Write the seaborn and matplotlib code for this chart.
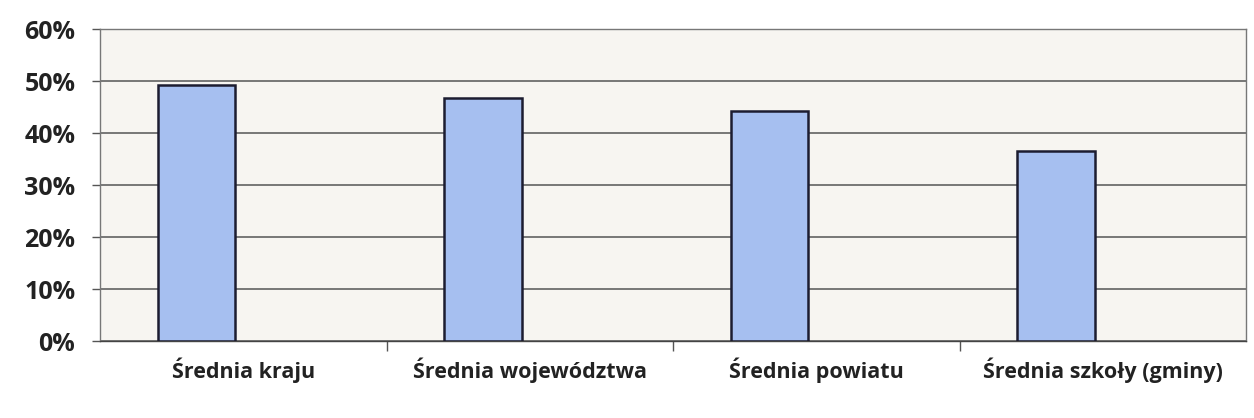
import pandas as pd
import numpy as np
import matplotlib
matplotlib.use("Agg")
import matplotlib.pyplot as plt
import seaborn as sns
from matplotlib.ticker import PercentFormatter, FixedLocator

sns.set_theme(style="white")
plt.rcParams['font.family'] = ['Open Sans', 'DejaVu Sans']

# data
categories = ["Średnia kraju", "Średnia województwa", "Średnia powiatu", "Średnia szkoły (gminy)"]
values = [49.3, 46.7, 44.2, 36.5]

# Excel-style layout: an empty second series keeps the bars left of the category centre
series = ["wynik", "pusta"]
empty = [np.nan] * len(categories)
df = pd.DataFrame({
    "kategoria": categories * 2,
    "wynik": values + empty,
    "seria": [series[0]] * len(categories) + [series[1]] * len(categories),
})

fig = plt.figure(figsize=(12.54, 4.18), dpi=100)
ax = fig.add_axes([0.08, 0.184, 0.914, 0.746])
ax.set_facecolor("#f7f5f1")

sns.barplot(data=df, x="kategoria", y="wynik", hue="seria", hue_order=series,
            order=categories, ax=ax, palette=["#a6bff0", "#a6bff0"], saturation=1,
            width=0.66, gap=0.18, edgecolor="#1c1c30", linewidth=1.8,
            legend=False, zorder=3)

ax.set_ylim(0, 60)
ax.set_xlim(-0.5, len(categories) - 0.5)
ax.set_yticks(np.arange(0, 61, 10))
ax.yaxis.set_major_formatter(PercentFormatter(decimals=0))
ax.yaxis.grid(True, color="#555555", linewidth=1.1, zorder=0)
ax.set_axisbelow(True)

ax.set_xlabel("")
ax.set_ylabel("")

for s in ax.spines.values():
    s.set_color("#777777")
    s.set_linewidth(1.0)
ax.spines["bottom"].set_color("#444444")

# tick marks between categories, labels centred under categories
ax.xaxis.set_minor_locator(FixedLocator(np.arange(0.5, len(categories) - 1, 1.0)))
ax.tick_params(axis="x", which="major", bottom=False, length=0, pad=12, labelsize=15.5)
ax.tick_params(axis="x", which="minor", bottom=True, length=7, color="#555555",
               width=1, direction="out")
ax.tick_params(axis="y", which="major", left=True, length=6, color="#555555", width=1,
               direction="out", labelsize=18, pad=12)
for lab in ax.get_xticklabels() + ax.get_yticklabels():
    lab.set_fontweight("bold")
    lab.set_color("#222222")

fig.savefig("out.png", dpi=100, facecolor="white")
